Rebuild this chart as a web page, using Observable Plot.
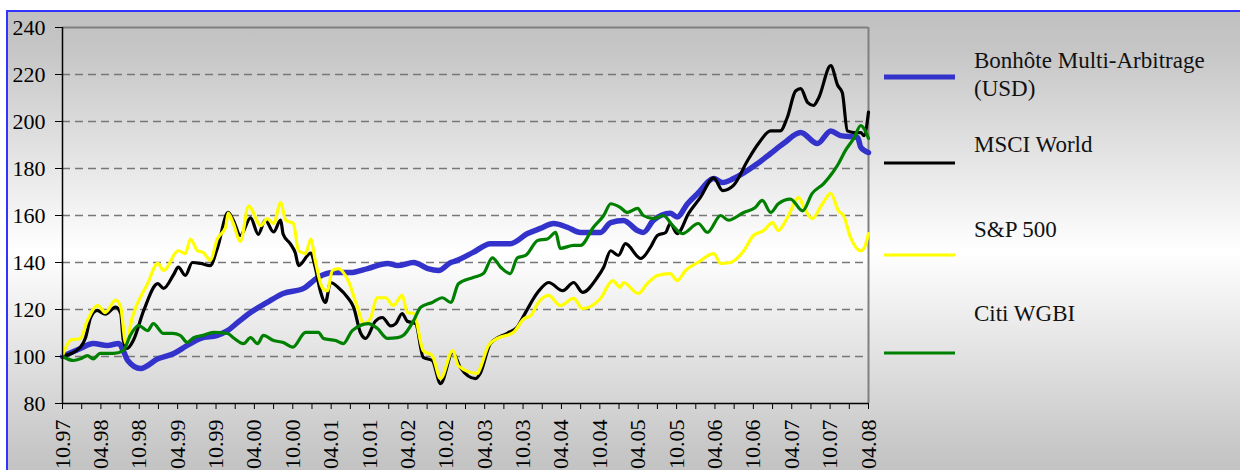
<!DOCTYPE html>
<html><head><meta charset="utf-8">
<script src="https://cdn.jsdelivr.net/npm/d3@7"></script>
<script src="https://cdn.jsdelivr.net/npm/@observablehq/plot@0.6"></script>
<style>
html,body{margin:0;padding:0;width:1240px;height:470px;overflow:hidden;background:#fff;}
#frame{position:absolute;left:6px;top:10px;width:1240px;height:480px;border-left:2px solid #3333ff;border-top:2px solid #3333ff;background:linear-gradient(to bottom,#c0c0c0 0%,#c6c6c6 8%,#ffffff 50%,#c6c6c6 92%,#c0c0c0 100%);}
#chart{position:absolute;left:0;top:0;}
#legend{position:absolute;left:0;top:0;}
#chart svg, #chart svg text{font-family:"Liberation Serif",serif !important;}
</style></head><body>
<div id="frame"></div>
<div id="chart"></div>
<svg id="legend" width="1240" height="470"></svg>
<script>
// month index 0 = Oct 1997, 126 = Apr 2008
const tickLabels = ["10.97","04.98","10.98","04.99","10.99","04.00","10.00","04.01","10.01","04.02","10.02","04.03","10.03","04.04","10.04","04.05","10.05","04.06","10.06","04.07","10.07","04.08"];
const yTicks = [80,100,120,140,160,180,200,220,240];
const gridValues = [100,120,140,160,180,200,220];
const seriesNames = ["Bonhôte Multi-Arbitrage", "MSCI World", "S&P 500", "Citi WGBI"];
const seriesColors = ["#3333cc","#000000","#ffff00","#008000"];

const bonhote = [[0,100],[2.8,103.4],[4.8,105.5],[7.0,104.7],[8.8,105.5],[9.5,102.5],[10.2,98.3],[12.2,94.9],[14.9,99],[17.4,101.3],[19.5,104.7],[21.6,107.7],[24.2,109],[25.8,111],[27.4,114.5],[29.4,118.7],[32.0,123],[34.5,126.8],[37.7,129],[39.9,133.6],[42.4,135.7],[45.0,135.7],[47.7,137.4],[50.8,139.6],[52.4,138.7],[54.9,140],[57.1,137.4],[58.8,136.6],[60.7,140],[61.7,140.9],[64.2,144.3],[66.9,148],[70.0,148],[72.7,152.3],[74.7,154.5],[76.8,156.6],[78.9,155],[81.0,152.8],[84.1,152.8],[85.7,157],[87.7,157.9],[89.9,153.6],[90.8,152.8],[92.4,158],[95.0,161],[96.1,159.4],[97.7,165],[99.3,169.4],[101.8,175.7],[103.2,174],[104.9,175.7],[108.6,182],[110.7,186.4],[112.7,190.6],[115.4,195.3],[118.0,190.6],[120.1,196],[121.6,194],[124.3,193.2],[124.8,189],[126,186.8]];

const msciWorld = [[0,100],[2.8,104],[3.6,108],[4.4,116.6],[5.4,119.6],[6.7,118],[8.3,121],[9.1,118.4],[9.5,107],[10.1,103.4],[11.1,107],[12.7,119.6],[14.9,131],[15.8,129],[17.4,135],[18.1,138],[19.2,134.5],[20.3,140],[21.6,139.6],[23.1,138.7],[24.2,146],[25.9,161.3],[26.7,158],[27.8,151.5],[29.4,159],[30.6,152],[31.7,158],[33.0,153],[34.1,158],[34.5,152],[35.6,148],[36.4,144],[36.9,138.7],[38.8,144],[39.5,138],[40.3,128],[41.1,123],[41.9,131.5],[43.1,129.4],[44.6,125],[45.5,121],[46.6,110],[47.4,107.7],[48.9,115],[50.0,116.6],[51.3,113],[52.1,114],[53.1,118.3],[53.9,115],[55.2,114],[56.4,99.6],[57.8,98.3],[59.1,88.5],[61.0,101.7],[62.2,95.3],[64.6,90.6],[65.3,92.8],[66.9,105.5],[69.6,110],[71.1,112.6],[72.4,118.8],[74.3,127.3],[76.0,131.5],[78.2,128],[79.9,131.5],[81.3,127.3],[83.6,133.6],[84.6,138],[85.7,145],[86.9,143],[88.0,148],[90.4,141.7],[91.9,146.4],[93.0,151.5],[94.3,152.8],[95.0,156.6],[96.1,152.3],[97.9,161],[99.7,167.6],[101.8,176],[103.2,170.6],[104.9,172.8],[107.1,183.4],[108.8,190.6],[110.7,196],[112.2,196],[113.3,201.7],[114.6,213],[115.4,214],[116.5,208],[117.4,206.8],[118.2,210],[120.1,223.8],[121.2,215.3],[121.9,212.3],[122.7,196],[123.7,195.3],[124.8,195.3],[125.3,194],[126,204]];

const sp500 = [[0,100.5],[1.3,107],[2.8,107.7],[3.9,115.3],[5.5,121.7],[6.7,118.7],[8.3,124],[9.1,121],[9.9,105.5],[10.9,116.6],[13.3,131],[14.9,139.6],[15.8,136.6],[18.1,145],[19.2,143.8],[20.0,150],[21.1,145],[22.0,144.3],[23.1,141],[24.2,150],[25.5,155],[25.9,161],[26.7,156.6],[27.8,149],[29.1,164],[31.0,155.7],[32.0,158.7],[33.0,156.6],[34.1,165.5],[34.9,158],[36.1,156.6],[36.9,145],[38.0,143.8],[38.8,150],[39.5,141],[40.6,129.4],[41.4,128],[42.2,136.6],[43.1,137.4],[44.7,132],[46.1,121],[47.1,114],[48.1,116],[49.2,125],[50.5,125],[51.7,121.7],[53.1,126],[53.9,118.7],[54.9,118.3],[56.4,102.5],[57.8,100.4],[59.1,90.6],[61.0,102.5],[61.9,96],[64.9,92.8],[65.3,95],[66.6,104.7],[68.0,107.7],[70.5,110.3],[72.1,116],[73.2,117.4],[74.4,123],[76.0,126],[77.8,121.7],[79.9,124.7],[81.3,120.4],[84.1,124.7],[86.0,132.3],[87.2,129.4],[87.7,131.5],[90.0,126.8],[91.4,131],[93.0,134.5],[95.0,135.3],[96.1,132.3],[97.4,136.6],[99.3,140],[101.8,143.8],[102.9,139.6],[104.4,140],[106.5,145],[108.0,151.5],[109.6,153.6],[111.0,157],[111.9,153.6],[113.3,159],[115.1,167.6],[115.8,164],[117.2,158.7],[118.8,165],[120.1,169.4],[121.3,162],[122.1,160],[123.2,150.6],[124.8,145],[125.3,146],[126,152.3]];

const citiWgbi = [[0,100],[1.7,98.3],[2.8,99],[3.9,100.4],[4.8,99],[5.9,101.3],[8.0,101.3],[9.5,102.5],[10.6,109],[11.9,113.2],[13.3,111],[14.2,114],[15.8,109.8],[17.2,109.8],[18.4,109],[19.5,106],[20.5,108],[22.0,109],[23.6,110.3],[25.8,109.8],[26.7,108],[28.3,105.5],[29.4,108],[30.5,105.5],[31.4,109],[33.0,106.8],[34.5,106],[36.0,104],[38.0,110.3],[40.0,110.3],[40.8,107.7],[42.7,106.8],[43.9,105.5],[45.3,111],[47.8,114],[49.2,112],[50.8,107.7],[52.4,108],[53.3,109],[54.9,115.3],[56.0,121],[57.8,123],[59.4,125],[60.7,123],[61.9,131],[64.2,133.6],[65.8,135.3],[67.2,142],[68.5,138],[70.0,135.3],[71.1,142],[72.4,143],[74.3,149.4],[75.8,150],[77.1,152.8],[77.8,146],[79.9,147.3],[81.0,147.3],[83.0,155],[84.6,160],[85.7,165],[87.2,163.4],[88.3,161.3],[89.9,163],[90.8,160],[92.4,158.7],[93.9,160],[95.4,155.7],[96.9,152.3],[99.4,156.6],[100.8,152.8],[102.9,160],[104.1,158],[106.5,161.3],[108.3,163.4],[109.4,166.4],[110.7,161.3],[111.9,165],[113.8,167],[115.7,162],[117.2,169.4],[119.0,173.6],[120.4,178.3],[121.3,182],[122.4,187.7],[123.7,192.8],[124.8,198.3],[125.3,197],[126,192.8]];

const seriesData = [bonhote, msciWorld, sp500, citiWgbi];
const seriesWidths = [5.5, 3.2, 3.2, 3.2];
const serif = "'Liberation Serif', serif";

const lineMarks = seriesData.map((d, i) => Plot.line(d, {
  x: p => p[0], y: p => p[1], stroke: seriesColors[i], strokeWidth: seriesWidths[i],
  strokeLinejoin: "round", strokeLinecap: "round", curve: "monotone-x"
}));

const chart = Plot.plot({
  width: 1240, height: 470,
  marginLeft: 62, marginRight: 372, marginTop: 27, marginBottom: 67,
  style: {background: "transparent", fontFamily: serif, fontSize: "22px", color: "#000"},
  x: {domain: [0, 126], label: null},
  y: {domain: [80, 240], label: null},
  marks: [
    Plot.ruleY(gridValues, {stroke: "#777", strokeWidth: 1.3, strokeDasharray: "8,5"}),
    Plot.ruleY([240], {stroke: "#808080", strokeWidth: 2}),
    Plot.ruleX([126], {stroke: "#808080", strokeWidth: 2}),
    ...lineMarks,
    Plot.ruleX([0], {stroke: "#000", strokeWidth: 1.5}),
    Plot.ruleY([80], {stroke: "#000", strokeWidth: 1.5}),
    Plot.axisY({ticks: yTicks, tickSize: 7, tickPadding: 10, fontSize: 22, fontFamily: serif, label: null}),
    Plot.axisX({ticks: d3.range(0, 127, 3), tickFormat: m => (m % 6 === 0 ? tickLabels[m / 6] : ""),
      tickRotate: -90, tickSize: 6, tickPadding: 10, fontSize: 22, fontFamily: serif, label: null})
  ]
});
chart.style.fontFamily = serif;
document.getElementById("chart").appendChild(chart);

// legend
const lg = d3.select("#legend").style("font-family", serif).style("font-size", "23px");
const swatchY = [77, 163, 255, 353];
const labelLines = [["Bonhôte Multi-Arbitrage", "(USD)"], [seriesNames[1]], [seriesNames[2]], [seriesNames[3]]];
const labelBase = [68, 152, 237, 321];
seriesColors.forEach((c, i) => {
  lg.append("line").attr("x1", 884).attr("x2", 955).attr("y1", swatchY[i]).attr("y2", swatchY[i])
    .attr("stroke", c).attr("stroke-width", i === 0 ? 5 : 3);
  labelLines[i].forEach((t, j) => {
    lg.append("text").attr("x", 974).attr("y", labelBase[i] + j * 28).attr("fill", "#111").text(t);
  });
});
</script>
</body></html>
